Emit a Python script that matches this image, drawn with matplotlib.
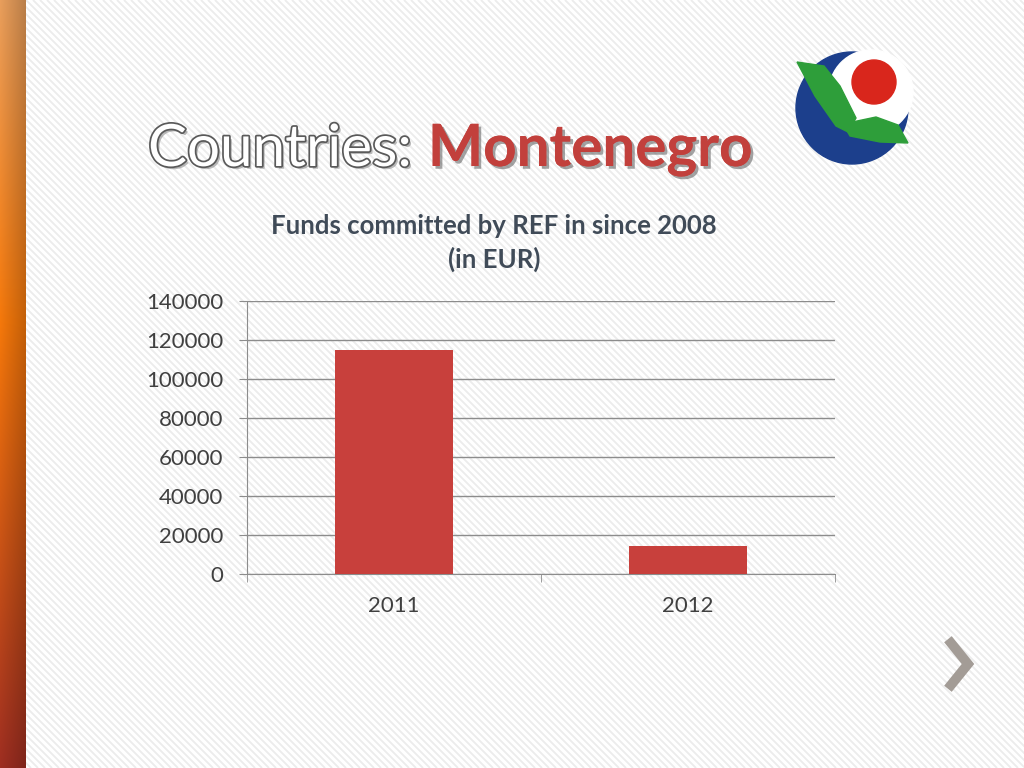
import numpy as np
import matplotlib
matplotlib.use('Agg')
import matplotlib.pyplot as plt
from matplotlib.collections import LineCollection
from matplotlib.patches import Circle, Polygon
import matplotlib.patheffects as pe

years = ['2011', '2012']
funds = [115000, 14500]
y_ticks = [0, 20000, 40000, 60000, 80000, 100000, 120000, 140000]

plt.rcParams['font.family'] = ['Lato', 'DejaVu Sans']

fig = plt.figure(figsize=(10.24, 7.68), dpi=100)
fig.patch.set_facecolor('white')

# slide background in pixel coords
bg = fig.add_axes([0, 0, 1, 1], zorder=0)
bg.set_xlim(0, 1024)
bg.set_ylim(768, 0)
bg.axis('off')

# diagonal stripes
segs = []
for s in range(-800, 1100, 7):
    segs.append([(s, 0), (s + 768, 768)])
bg.add_collection(LineCollection(segs, colors='#ececec', linewidths=1.3, zorder=0))

# left orange bar
grad = np.linspace(0, 1, 256)
top = np.array([0.91, 0.62, 0.36])
mid = np.array([0.96, 0.47, 0.04])
bot = np.array([0.62, 0.18, 0.13])
cols = []
for g in grad:
    if g < 0.42:
        t = g / 0.42
        cols.append(top * (1 - t) + mid * t)
    else:
        t = (g - 0.42) / 0.58
        cols.append(mid * (1 - t) + bot * t)
cols = np.array(cols)
img = np.repeat(cols[:, None, :], 26, axis=1)
shade = np.linspace(1.0, 0.8, 26)[None, :, None]
img = img * shade
bg.imshow(img, extent=(0, 26, 768, 0), aspect='auto', zorder=2)

# logo
bg.add_patch(Circle((852, 108), 56, color='#1c3f8c', zorder=3))
bg.add_patch(Circle((871, 92), 42, color='white', zorder=4))
bg.add_patch(Circle((874, 82), 22, color='#d9261c', zorder=5))
bg.add_patch(Polygon([(797, 62), (824, 66), (840, 86), (856, 118), (848, 132), (836, 126), (815, 96)],
                     closed=True, color='#2e9e3a', zorder=6))
bg.add_patch(Polygon([(843, 124), (876, 117), (898, 125), (908, 143), (880, 142), (850, 136)],
                     closed=True, color='#2e9e3a', zorder=6))

# chevron
bg.plot([951, 968, 951], [643, 664, 685], color='#a39c96', lw=7, solid_joinstyle='miter', zorder=3)

# slide title
fig.text(148 / 1024, 1 - 166 / 768, 'Countries:', fontsize=42, color='white', va='baseline',
         path_effects=[pe.withSimplePatchShadow(offset=(2, -2), shadow_rgbFace='#777777', alpha=0.5),
                       pe.withStroke(linewidth=2.5, foreground='#5a5a5a')])
fig.text(428 / 1024, 1 - 166 / 768, 'Montenegro', fontsize=42, color='#c2403c', fontweight='bold',
         va='baseline',
         path_effects=[pe.withSimplePatchShadow(offset=(2, -2), shadow_rgbFace='#666666', alpha=0.6),
                       pe.Normal()])

# chart
ax = fig.add_axes([247 / 1024, 1 - 574 / 768, 588 / 1024, 273 / 768], zorder=1)
ax.patch.set_alpha(0)
x = np.arange(len(years))
ax.bar(x, funds, width=0.4, color='#c8403c', zorder=3)
ax.set_xlim(-0.5, 1.5)
ax.set_ylim(0, 140000)
ax.set_yticks(y_ticks)
ax.set_yticklabels([str(v) for v in y_ticks])
ax.set_xticks(x)
ax.set_xticklabels(years)
ax.set_xticks([-0.5, 0.5, 1.5], minor=True)
ax.yaxis.grid(True, color='#8c8c8c', lw=1)
ax.set_axisbelow(True)
for s in ['top', 'right']:
    ax.spines[s].set_visible(False)
for s in ['left', 'bottom']:
    ax.spines[s].set_color('#8c8c8c')
ax.tick_params(axis='y', length=6, color='#8c8c8c', labelsize=16, labelcolor='#404040', pad=11)
ax.tick_params(axis='x', which='major', length=0, labelsize=16, labelcolor='#404040', pad=16)
ax.tick_params(axis='x', which='minor', length=6, color='#8c8c8c')

fig.text(494 / 1024, 1 - 243 / 768, 'Funds committed by REF in since 2008\n(in EUR)', fontsize=18.5,
         fontweight='bold', color='#404b58', ha='center', va='center', linespacing=1.45)

fig.savefig('out.png', dpi=100)
